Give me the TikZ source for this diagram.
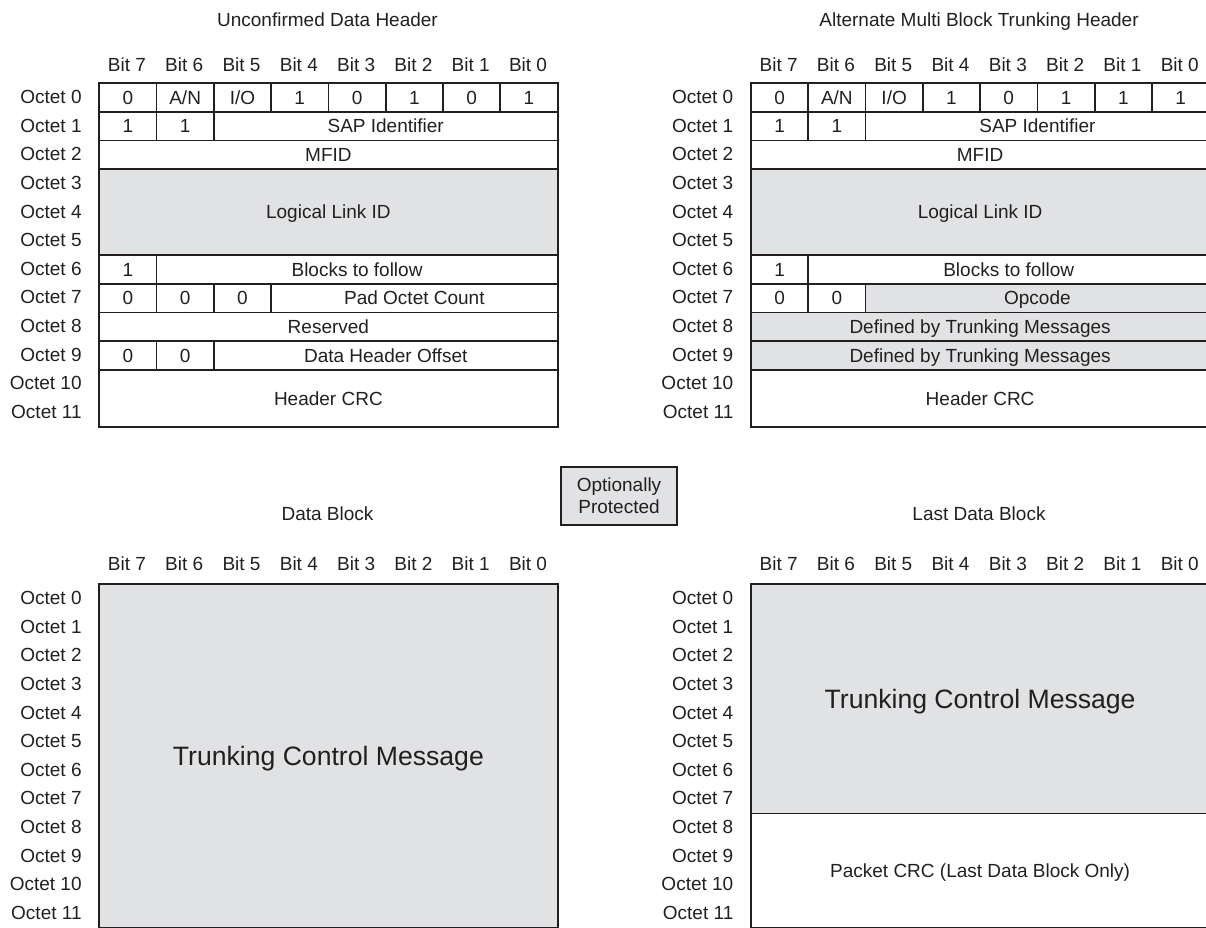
\documentclass[tikz,border=0pt]{standalone}
\usepackage{fontspec}
\setmainfont{Liberation Sans}
\definecolor{ink}{HTML}{231F20}
\definecolor{shade}{HTML}{E1E2E4}
\tikzset{
  cellbox/.style={draw=ink, line width=1.8pt, inner sep=0pt, anchor=north west,
    font=\fontsize{19}{22}\selectfont, text=ink, text height=13.6pt, text depth=0pt},
  shaded/.style={fill=shade},
  bigtext/.style={font=\fontsize{26.6}{30}\selectfont, text height=19pt, text depth=0pt},
  bitlbl/.style={inner sep=0pt, font=\fontsize{19}{22}\selectfont, text=ink, text height=13.6pt, text depth=0pt},
  octlbl/.style={inner sep=0pt, anchor=east, font=\fontsize{19}{22}\selectfont, text=ink, text height=13.6pt, text depth=0pt},
  titlelbl/.style={inner sep=0pt, font=\fontsize{19}{22}\selectfont, text=ink, text height=13.6pt, text depth=0pt},
  optbox/.style={draw=ink, line width=1.5pt, fill=shade, align=center, inner sep=0pt,
    minimum width=115.7pt, minimum height=58.3pt,
    font=\fontsize{19}{21.7}\selectfont, text=ink}
}
\newcommand{\pcell}[7]{\node[cellbox,minimum width={#4*57.3pt},minimum height={#5*28.65pt},#7] (#1) at (#2,#3) {#6};}
\newcommand{\pframe}[3]{%
  \foreach \j in {0,...,11}{\node[octlbl] (#1O\j) at (-0.288,\j+0.5) {Octet \j};}
  \foreach \i in {0,...,7}{\pgfmathtruncatemacro\bb{7-\i}\node[bitlbl] (#1B\i) at (\i+0.5,#2) {Bit \bb};}
}
\begin{document}
\begin{tikzpicture}[x=1pt,y=-1pt]
\useasboundingbox (0,0) rectangle (1206,927);
\clip (0,0) rectangle (1206,927);

% titles
\node[titlelbl] (t1) at (327.5,20) {Unconfirmed Data Header};
\node[titlelbl] (t2) at (979,20) {Alternate Multi Block Trunking Header};
\node[titlelbl] (t3) at (327.5,514) {Data Block};
\node[titlelbl] (t4) at (979,514) {Last Data Block};

% Unconfirmed Data Header
\begin{scope}[shift={(98.3,82.3)}, x=57.3pt, y=-28.65pt]
\pframe{ua}{-0.6}{}
\pcell{ua00}{0}{0}{1}{1}{0}{}
\pcell{ua01}{1}{0}{1}{1}{A/N}{}
\pcell{ua02}{2}{0}{1}{1}{I/O}{}
\pcell{ua03}{3}{0}{1}{1}{1}{}
\pcell{ua04}{4}{0}{1}{1}{0}{}
\pcell{ua05}{5}{0}{1}{1}{1}{}
\pcell{ua06}{6}{0}{1}{1}{0}{}
\pcell{ua07}{7}{0}{1}{1}{1}{}
\pcell{ua10}{0}{1}{1}{1}{1}{}
\pcell{ua11}{1}{1}{1}{1}{1}{}
\pcell{ua12}{2}{1}{6}{1}{SAP Identifier}{}
\pcell{ua2}{0}{2}{8}{1}{MFID}{}
\pcell{ua3}{0}{3}{8}{3}{Logical Link ID}{shaded}
\pcell{ua60}{0}{6}{1}{1}{1}{}
\pcell{ua61}{1}{6}{7}{1}{Blocks to follow}{}
\pcell{ua70}{0}{7}{1}{1}{0}{}
\pcell{ua71}{1}{7}{1}{1}{0}{}
\pcell{ua72}{2}{7}{1}{1}{0}{}
\pcell{ua73}{3}{7}{5}{1}{Pad Octet Count}{}
\pcell{ua8}{0}{8}{8}{1}{Reserved}{}
\pcell{ua90}{0}{9}{1}{1}{0}{}
\pcell{ua91}{1}{9}{1}{1}{0}{}
\pcell{ua92}{2}{9}{6}{1}{Data Header Offset}{}
\pcell{ua10x}{0}{10}{8}{2}{Header CRC}{}
\end{scope}

% Alternate Multi Block Trunking Header
\begin{scope}[shift={(750,82.3)}, x=57.3pt, y=-28.65pt]
\pframe{am}{-0.6}{}
\pcell{am00}{0}{0}{1}{1}{0}{}
\pcell{am01}{1}{0}{1}{1}{A/N}{}
\pcell{am02}{2}{0}{1}{1}{I/O}{}
\pcell{am03}{3}{0}{1}{1}{1}{}
\pcell{am04}{4}{0}{1}{1}{0}{}
\pcell{am05}{5}{0}{1}{1}{1}{}
\pcell{am06}{6}{0}{1}{1}{1}{}
\pcell{am07}{7}{0}{1}{1}{1}{}
\pcell{am10}{0}{1}{1}{1}{1}{}
\pcell{am11}{1}{1}{1}{1}{1}{}
\pcell{am12}{2}{1}{6}{1}{SAP Identifier}{}
\pcell{am2}{0}{2}{8}{1}{MFID}{}
\pcell{am3}{0}{3}{8}{3}{Logical Link ID}{shaded}
\pcell{am60}{0}{6}{1}{1}{1}{}
\pcell{am61}{1}{6}{7}{1}{Blocks to follow}{}
\pcell{am70}{0}{7}{1}{1}{0}{}
\pcell{am71}{1}{7}{1}{1}{0}{}
\pcell{am72}{2}{7}{6}{1}{Opcode}{shaded}
\pcell{am8}{0}{8}{8}{1}{Defined by Trunking Messages}{shaded}
\pcell{am9}{0}{9}{8}{1}{Defined by Trunking Messages}{shaded}
\pcell{am10x}{0}{10}{8}{2}{Header CRC}{}
\end{scope}

% Optionally Protected
\node[optbox] (opt) at (619,496) {Optionally\\Protected};

% Data Block
\begin{scope}[shift={(98.3,583.3)}, x=57.3pt, y=-28.65pt]
\pframe{db}{-0.67}{}
\pcell{dbm}{0}{0}{8}{12}{Trunking Control Message}{shaded,bigtext}
\end{scope}

% Last Data Block
\begin{scope}[shift={(750,583.3)}, x=57.3pt, y=-28.65pt]
\pframe{ld}{-0.67}{}
\pcell{ldm}{0}{0}{8}{8}{Trunking Control Message}{shaded,bigtext}
\pcell{ldc}{0}{8}{8}{4}{Packet CRC (Last Data Block Only)}{}
\end{scope}
\end{tikzpicture}
\end{document}
